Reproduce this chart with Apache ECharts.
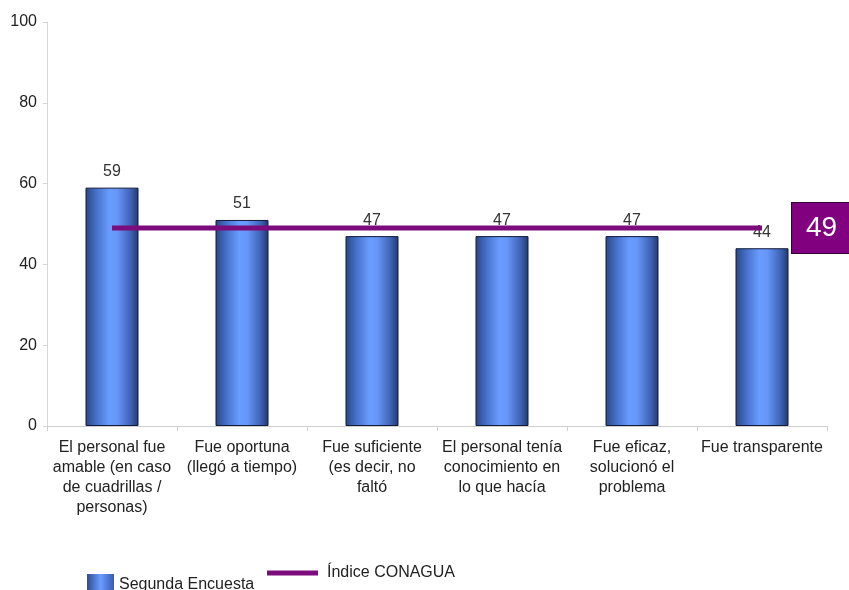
<!DOCTYPE html>
<html>
<head>
<meta charset="utf-8">
<script src="https://cdn.jsdelivr.net/npm/echarts@6/dist/echarts.min.js"></script>
<style>
  html, body { margin: 0; padding: 0; background: #ffffff; }
  #chart { width: 849px; height: 590px; }
</style>
</head>
<body>
<div id="chart"></div>
<script>
// Survey attributes (category axis)
const categories = [
  'El personal fue\namable (en caso\nde cuadrillas /\npersonas)',
  'Fue oportuna\n(llegó a tiempo)',
  'Fue suficiente\n(es decir, no\nfaltó',
  'El personal tenía\nconocimiento en\nlo que hacía',
  'Fue eficaz,\nsolucionó el\nproblema',
  'Fue transparente'
];

// Second survey results per attribute
const segundaEncuesta = [59, 51, 47, 47, 47, 44];

// Overall CONAGUA index, drawn across all categories
const indiceConagua = 49;
const indiceLine = categories.map(() => indiceConagua);

const yTicks = { min: 0, max: 100, interval: 20 };

const FONT = 'Liberation Sans, Arial, sans-serif';

const barGradient = new echarts.graphic.LinearGradient(0, 0, 1, 0, [
  { offset: 0, color: '#2a4584' },
  { offset: 0.2, color: '#4470c8' },
  { offset: 0.45, color: '#6a9cff' },
  { offset: 0.6, color: '#6696f8' },
  { offset: 0.85, color: '#3f63b4' },
  { offset: 1, color: '#233868' }
]);

const legendIcon = new echarts.graphic.LinearGradient(0, 0, 1, 0, [
  { offset: 0, color: '#2e4c92' },
  { offset: 0.5, color: '#6a9cff' },
  { offset: 1, color: '#3a5cae' }
]);

const chart = echarts.init(document.getElementById('chart'), null, { renderer: 'canvas' });

chart.setOption({
  animation: false,
  backgroundColor: '#ffffff',
  textStyle: { fontFamily: FONT },
  grid: { left: 47, right: 22, top: 22, bottom: 164, containLabel: false },
  legend: [
    {
      data: [{ name: 'Segunda Encuesta', icon: 'rect', itemStyle: { color: legendIcon, borderWidth: 0 } }],
      left: 82,
      top: 569,
      itemWidth: 27,
      itemHeight: 22,
      itemStyle: { borderWidth: 0 },
      textStyle: { fontFamily: FONT, fontSize: 16, color: '#222', padding: [3, 0, 0, 0] }
    },
    {
      data: [{ name: 'Índice CONAGUA', icon: 'rect' }],
      left: 262,
      top: 560,
      itemWidth: 51,
      itemHeight: 5,
      textStyle: { fontFamily: FONT, fontSize: 16, color: '#222', padding: [-5, 0, 0, 4] }
    }
  ],
  xAxis: {
    type: 'category',
    data: categories,
    boundaryGap: true,
    axisLine: { lineStyle: { color: '#cfcfcf', width: 1 } },
    axisTick: { show: true, length: 5, lineStyle: { color: '#cfcfcf' } },
    axisLabel: {
      interval: 0,
      margin: 12,
      fontFamily: FONT,
      fontSize: 16,
      lineHeight: 20,
      color: '#222',
      align: 'center'
    },
    splitLine: { show: false }
  },
  yAxis: {
    type: 'value',
    min: yTicks.min,
    max: yTicks.max,
    interval: yTicks.interval,
    axisLine: { show: true, lineStyle: { color: '#d6d6d6', width: 1 } },
    axisTick: { show: true, length: 4, lineStyle: { color: '#d6d6d6' } },
    axisLabel: { fontFamily: FONT, fontSize: 16, color: '#222', margin: 10 },
    splitLine: { show: false }
  },
  series: [
    {
      name: 'Segunda Encuesta',
      type: 'bar',
      data: segundaEncuesta,
      barWidth: 53,
      itemStyle: {
        color: barGradient,
        borderColor: '#121a3a',
        borderWidth: 1
      },
      label: {
        show: true,
        position: 'top',
        distance: 8,
        fontFamily: FONT,
        fontSize: 16,
        color: '#333'
      },
      z: 2
    },
    {
      name: 'Índice CONAGUA',
      type: 'line',
      data: indiceLine,
      symbol: 'none',
      showSymbol: false,
      lineStyle: { color: '#7c0c7c', width: 5 },
      itemStyle: { color: '#7c0c7c' },
      endLabel: {
        show: true,
        formatter: (p) => String(p.value),
        distance: 30,
        fontFamily: FONT,
        fontSize: 28,
        color: '#ffffff',
        backgroundColor: '#800080',
        borderColor: '#3a003a',
        borderWidth: 1,
        padding: [12, 14, 10, 14]
      },
      z: 3
    }
  ]
});
</script>
</body>
</html>
